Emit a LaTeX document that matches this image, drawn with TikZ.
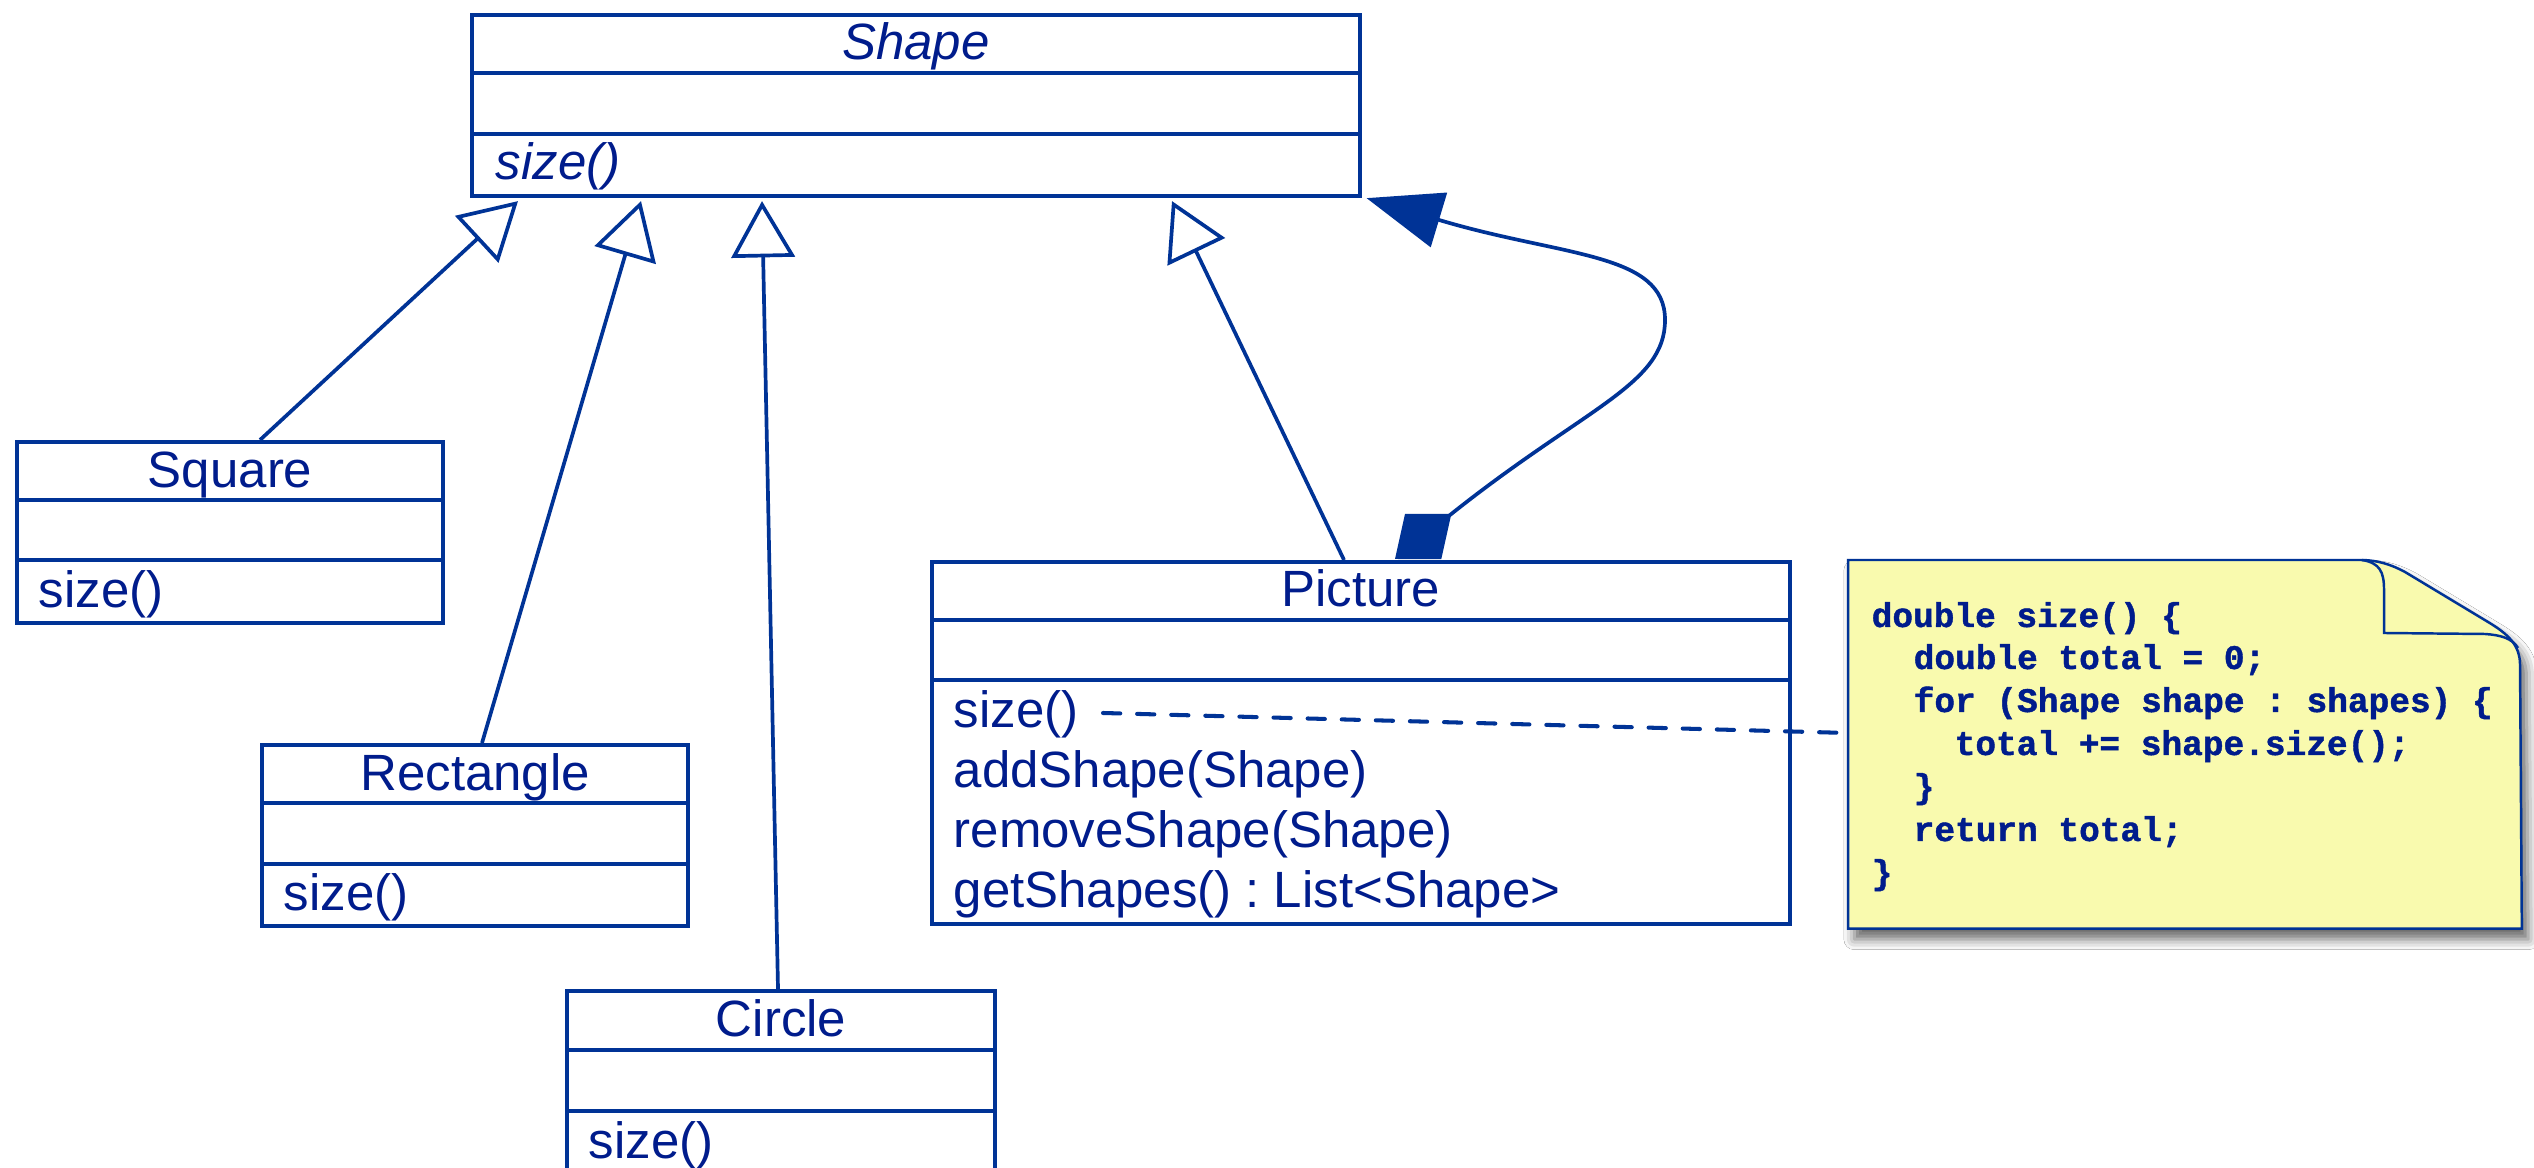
\documentclass[tikz,border=0pt]{standalone}
\usepackage{fontspec}
\setmainfont{Liberation Sans}
\newfontfamily\codefont{Liberation Mono}[BoldFeatures={FakeBold=1.2}]
\usetikzlibrary{arrows.meta,calc,shadows.blur}

\definecolor{umlblue}{RGB}{0,51,150}
\definecolor{umltext}{RGB}{0,28,140}
\definecolor{notefill}{RGB}{249,250,174}

\frenchspacing
\newcommand{\umlfont}{\fontsize{14.5}{17}\selectfont}
% two horizontal compartment lines of a class box, at given offsets from its top
\newcommand{\umldividers}[3]{%
  \draw[divider] ($(#1.north west)+(0,#2)$) -- ($(#1.north east)+(0,#2)$);
  \draw[divider] ($(#1.north west)+(0,#3)$) -- ($(#1.north east)+(0,#3)$);}

\begin{document}
\begin{tikzpicture}[x=0.01cm,y=-0.01cm,
  classbox/.style={draw=umlblue, line width=1.15pt, inner sep=0pt, anchor=north west},
  divider/.style={draw=umlblue, line width=1.15pt},
  cname/.style={anchor=base, text=umltext, font=\umlfont, inner sep=0pt},
  cmember/.style={anchor=base west, text=umltext, font=\umlfont, inner sep=0pt},
  codeline/.style={anchor=base west, text=umltext, font=\codefont\bfseries\fontsize{9.8}{12}\selectfont, inner sep=0pt},
  inherit/.style={draw=umlblue, line width=1.05pt, -{Triangle[open, length=16pt, width=18pt]}},
  compose/.style={draw=umlblue, line width=1.05pt, {Diamond[length=20.5pt, width=16.5pt]}-{Triangle[length=21.5pt, width=16pt]}},
  notelink/.style={draw=umlblue, line width=1.15pt, dash pattern=on 4.9pt off 4.8pt, line cap=round},
]
\useasboundingbox (0,0) rectangle (2534,1168);
\fill[white] (0,0) rectangle (2534,1168);

% abstract base class
\node[classbox, minimum width=8.87cm, minimum height=1.81cm] (shape) at (470,13) {};
\umldividers{shape}{60}{121}
\node[cname, font=\umlfont\itshape] (shape-name) at ($(shape.north)+(0,47)$) {Shape};
\node[cmember, font=\umlfont\itshape] (shape-op) at ($(shape.north west)+(25,167)$) {size()};

% concrete shapes
\node[classbox, minimum width=4.26cm, minimum height=1.81cm] (sq) at (15,440) {};
\umldividers{sq}{60}{120}
\node[cname] (sq-name) at ($(sq.north)+(0,48)$) {Square};
\node[cmember] (sq-op) at ($(sq.north west)+(23,168)$) {size()};

\node[classbox, minimum width=4.26cm, minimum height=1.81cm] (rect) at (260,743) {};
\umldividers{rect}{60}{121}
\node[cname] (rect-name) at ($(rect.north)+(0,48)$) {Rectangle};
\node[cmember] (rect-op) at ($(rect.north west)+(23,168)$) {size()};

\node[classbox, minimum width=4.28cm, minimum height=1.81cm] (circ) at (565,989) {};
\umldividers{circ}{61}{122}
\node[cname] (circ-name) at ($(circ.north)+(0,48)$) {Circle};
\node[cmember] (circ-op) at ($(circ.north west)+(23,169)$) {size()};

% composite
\node[classbox, minimum width=8.57cm, minimum height=3.62cm] (pic) at (930,560) {};
\umldividers{pic}{60}{120}
\node[cname] (pic-name) at ($(pic.north)+(0,47)$) {Picture};
\node[cmember] (pic-op1) at ($(pic.north west)+(23,168)$) {size()};
\node[cmember] (pic-op2) at ($(pic.north west)+(23,228)$) {addShape(Shape)};
\node[cmember] (pic-op3) at ($(pic.north west)+(23,288)$) {removeShape(Shape)};
\node[cmember] (pic-op4) at ($(pic.north west)+(23,348)$) {getShapes() : List<Shape>};

% generalisation arrows
\coordinate (tipSq) at ($(shape.south west)+(48,3)$);
\coordinate (tipRect) at ($(shape.south west)+(171,3)$);
\coordinate (tipCirc) at ($(shape.south west)+(292,3)$);
\coordinate (tipPic) at ($(shape.south west)+(702,3)$);
\coordinate (fromSq) at ($(sq.north west)+(245,0)$);
\coordinate (fromRect) at ($(rect.north west)+(222,0)$);
\coordinate (fromCirc) at ($(circ.north west)+(213,0)$);
\coordinate (fromPic) at ($(pic.north west)+(414,0)$);
\draw[inherit] (fromSq) -- (tipSq);
\draw[inherit] (fromRect) -- (tipRect);
\draw[inherit] (fromCirc) -- (tipCirc);
\draw[inherit] (fromPic) -- (tipPic);

% composition: Picture holds Shapes
\coordinate (partOwner) at ($(pic.north west)+(465,-1)$);
\coordinate (partTarget) at ($(shape.south east)+(5,0)$);
\draw[compose] (partOwner) .. controls (1585,407) and (1665,385) .. (1665,320)
  .. controls (1665,252) and (1562,257) .. (partTarget);

% note with the implementation of size()
\node[inner sep=0pt, minimum width=6.72cm, minimum height=3.67cm, anchor=north west] (note) at (1848,560) {};
\coordinate (linkFrom) at ($(pic.north west)+(173,153)$);
\coordinate (linkTo) at ($(note.north west)+(0,173)$);
\draw[notelink] (linkFrom) -- (linkTo);

\path[fill=notefill, draw=umlblue, line width=0.7pt,
  blur shadow={shadow xshift=1.8pt, shadow yshift=-3pt, shadow blur radius=3pt, shadow opacity=60}]
  (note.north west) -- (2360,560) .. controls (2378,560) and (2392,565) .. (2405,572)
  -- (2488,622) .. controls (2508,634) and (2520,645) .. (2520,665)
  -- (note.south east) -- (note.south west) -- cycle;
\draw[umlblue, line width=0.7pt] (2362,560) .. controls (2380,563) and (2384,572) .. (2384,590)
  -- (2384,633) -- (2485,634) .. controls (2500,635) and (2512,638) .. (2518,648);

\node[codeline] (code1) at ($(note.north west)+(23,67)$) {double size() \{};
\node[codeline] (code2) at ($(note.north west)+(65,109)$) {double total = 0;};
\node[codeline] (code3) at ($(note.north west)+(65,152)$) {for (Shape shape : shapes) \{};
\node[codeline] (code4) at ($(note.north west)+(106,195)$) {total += shape.size();};
\node[codeline] (code5) at ($(note.north west)+(65,238)$) {\}};
\node[codeline] (code6) at ($(note.north west)+(65,281)$) {return total;};
\node[codeline] (code7) at ($(note.north west)+(23,324)$) {\}};
\end{tikzpicture}
\end{document}
